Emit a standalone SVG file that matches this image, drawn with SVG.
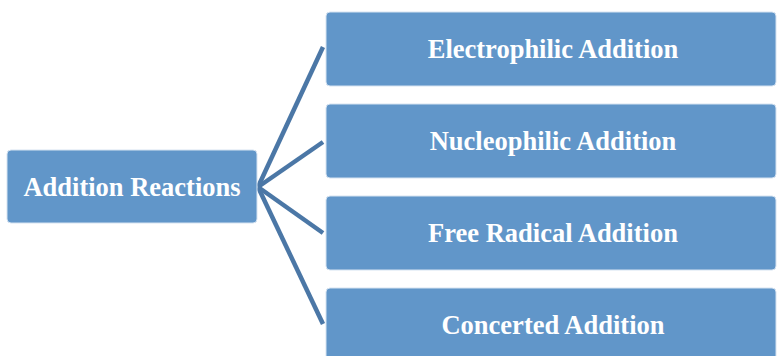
<svg xmlns="http://www.w3.org/2000/svg" width="777" height="356" viewBox="0 0 777 356">
<style>
.box{fill:#6196c9;stroke:#d6e3f1;stroke-width:1}
.lbl{font-family:"Liberation Serif","Times New Roman",serif;font-weight:bold;font-size:26.5px;fill:#ffffff;text-anchor:middle;dominant-baseline:central}
.conn{stroke:#4b77a6;stroke-width:4.5;fill:none;stroke-linecap:butt}
</style>
<rect width="777" height="356" fill="#ffffff"/>
<g id="connectors">
<line class="conn" x1="258" y1="187" x2="323" y2="47"/>
<line class="conn" x1="258" y1="187" x2="323" y2="142"/>
<line class="conn" x1="258" y1="187" x2="323" y2="233"/>
<line class="conn" x1="258" y1="187" x2="323" y2="324"/>
</g>
<g id="n0"><rect class="box" x="7" y="150" width="250" height="73" rx="4"/><text class="lbl" x="132" y="187">Addition Reactions</text></g>
<g id="n1"><rect class="box" x="326" y="12" width="450" height="74" rx="4"/><text class="lbl" x="553" y="49">Electrophilic Addition</text></g>
<g id="n2"><rect class="box" x="326" y="104" width="450" height="74" rx="4"/><text class="lbl" x="553" y="141">Nucleophilic Addition</text></g>
<g id="n3"><rect class="box" x="326" y="196" width="450" height="74" rx="4"/><text class="lbl" x="553" y="233">Free Radical Addition</text></g>
<g id="n4"><rect class="box" x="326" y="288" width="450" height="74" rx="4"/><text class="lbl" x="553" y="325">Concerted Addition</text></g>
</svg>
